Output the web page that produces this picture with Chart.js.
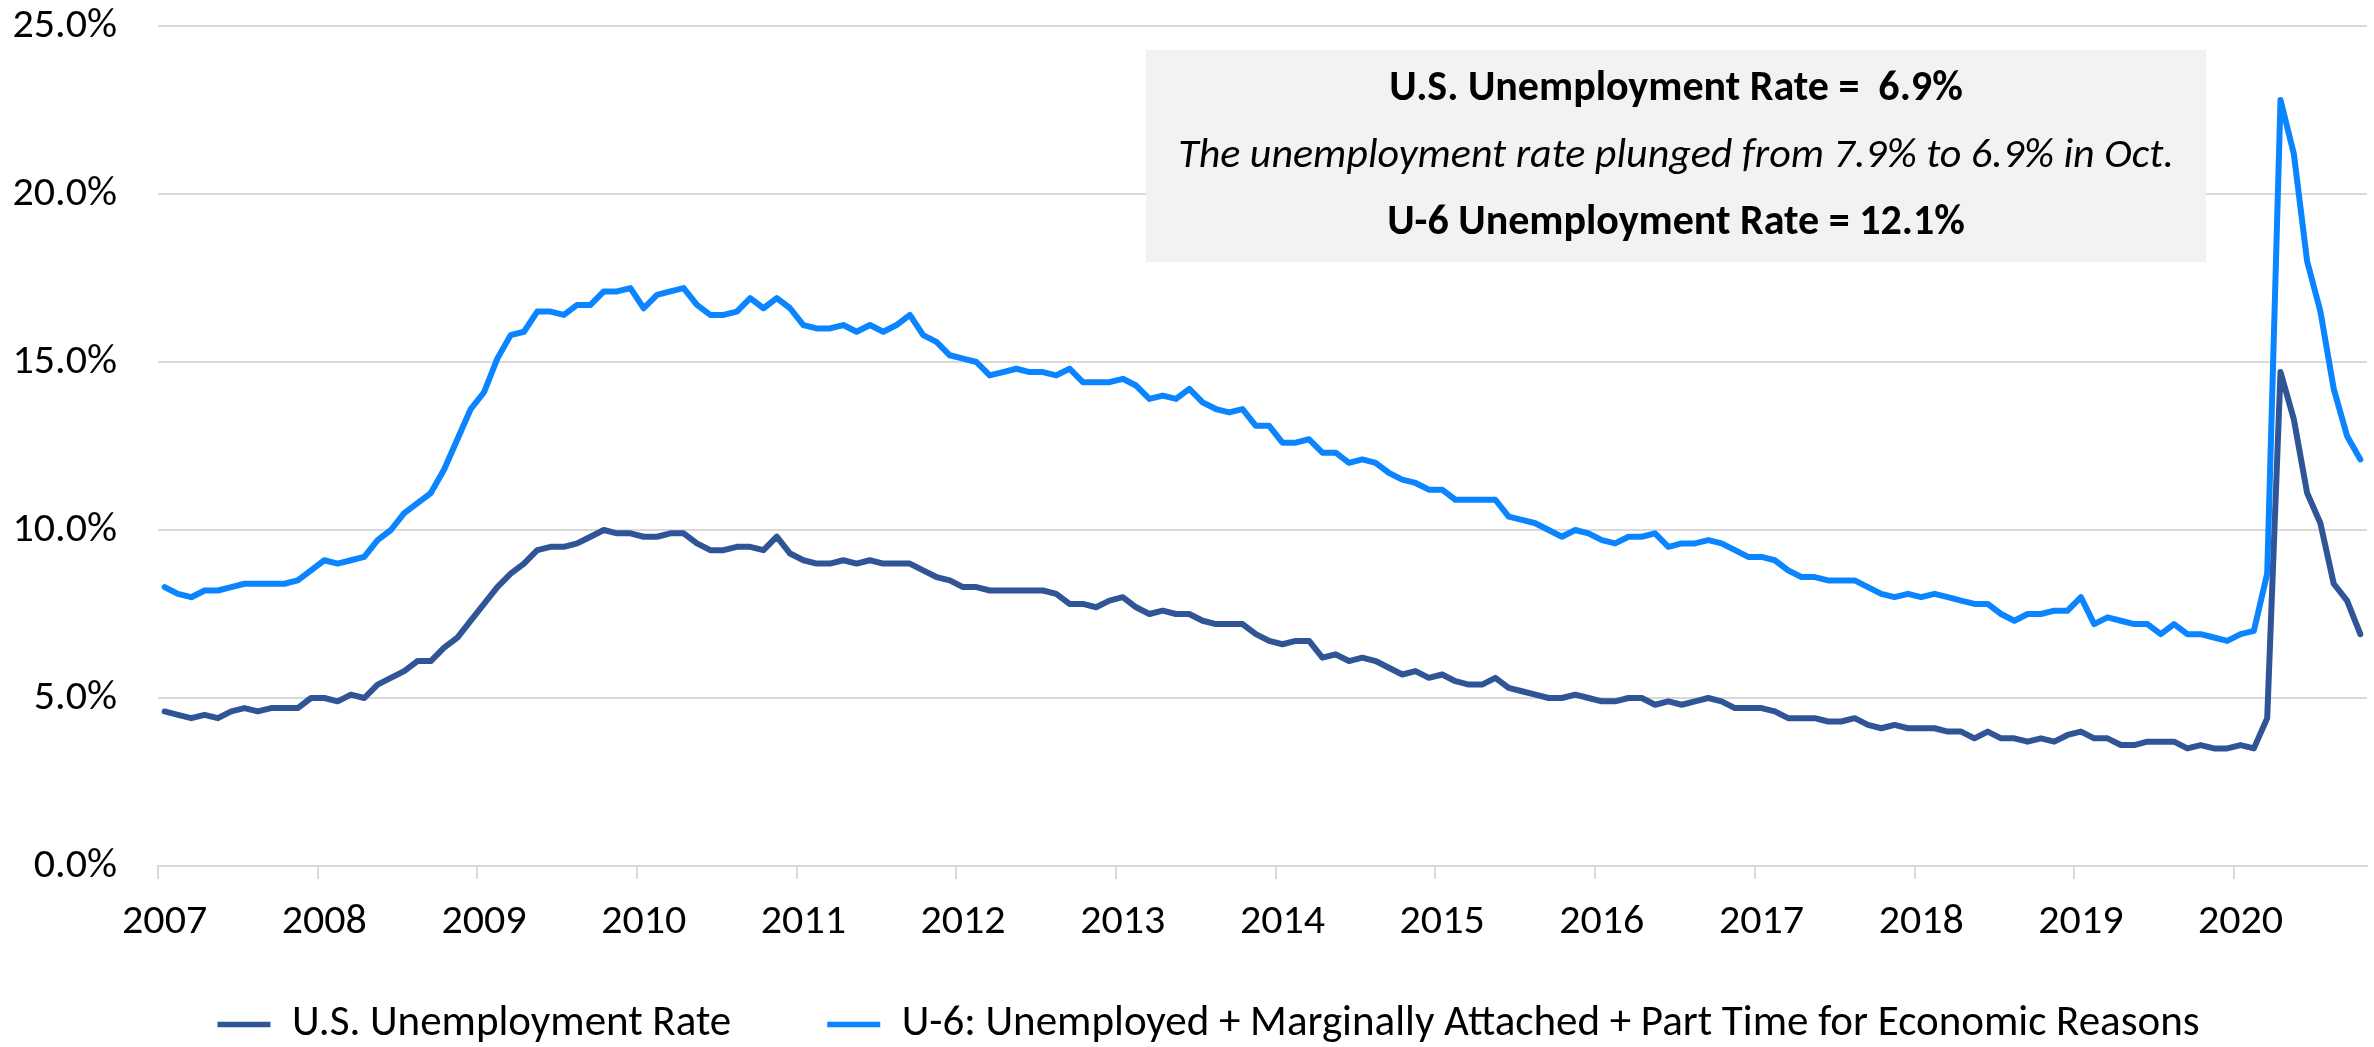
<!DOCTYPE html>
<html>
<head>
<meta charset="utf-8">
<title>U.S. Unemployment Rate vs U-6</title>
<script src="https://cdn.jsdelivr.net/npm/chart.js@4.4.1/dist/chart.umd.min.js"></script>
<style>
  html, body { margin: 0; padding: 0; background: #fff; overflow: hidden; }
  #wrap { position: relative; width: 2374px; height: 1047px; }
  #wrap canvas { display: block; }
</style>
</head>
<body>
<div id="wrap"><canvas id="unempChart"></canvas></div>
<script>
// monthly, Jan 2007 - Oct 2020
const years = [2007, 2008, 2009, 2010, 2011, 2012, 2013, 2014, 2015, 2016, 2017, 2018, 2019, 2020];

const usRate = [
  4.6, 4.5, 4.4, 4.5, 4.4, 4.6, 4.7, 4.6, 4.7, 4.7, 4.7, 5.0,
  5.0, 4.9, 5.1, 5.0, 5.4, 5.6, 5.8, 6.1, 6.1, 6.5, 6.8, 7.3,
  7.8, 8.3, 8.7, 9.0, 9.4, 9.5, 9.5, 9.6, 9.8, 10.0, 9.9, 9.9,
  9.8, 9.8, 9.9, 9.9, 9.6, 9.4, 9.4, 9.5, 9.5, 9.4, 9.8, 9.3,
  9.1, 9.0, 9.0, 9.1, 9.0, 9.1, 9.0, 9.0, 9.0, 8.8, 8.6, 8.5,
  8.3, 8.3, 8.2, 8.2, 8.2, 8.2, 8.2, 8.1, 7.8, 7.8, 7.7, 7.9,
  8.0, 7.7, 7.5, 7.6, 7.5, 7.5, 7.3, 7.2, 7.2, 7.2, 6.9, 6.7,
  6.6, 6.7, 6.7, 6.2, 6.3, 6.1, 6.2, 6.1, 5.9, 5.7, 5.8, 5.6,
  5.7, 5.5, 5.4, 5.4, 5.6, 5.3, 5.2, 5.1, 5.0, 5.0, 5.1, 5.0,
  4.9, 4.9, 5.0, 5.0, 4.8, 4.9, 4.8, 4.9, 5.0, 4.9, 4.7, 4.7,
  4.7, 4.6, 4.4, 4.4, 4.4, 4.3, 4.3, 4.4, 4.2, 4.1, 4.2, 4.1,
  4.1, 4.1, 4.0, 4.0, 3.8, 4.0, 3.8, 3.8, 3.7, 3.8, 3.7, 3.9,
  4.0, 3.8, 3.8, 3.6, 3.6, 3.7, 3.7, 3.7, 3.5, 3.6, 3.5, 3.5,
  3.6, 3.5, 4.4, 14.7, 13.3, 11.1, 10.2, 8.4, 7.9, 6.9
];

const u6Rate = [
  8.3, 8.1, 8.0, 8.2, 8.2, 8.3, 8.4, 8.4, 8.4, 8.4, 8.5, 8.8,
  9.1, 9.0, 9.1, 9.2, 9.7, 10.0, 10.5, 10.8, 11.1, 11.8, 12.7, 13.6,
  14.1, 15.1, 15.8, 15.9, 16.5, 16.5, 16.4, 16.7, 16.7, 17.1, 17.1, 17.2,
  16.6, 17.0, 17.1, 17.2, 16.7, 16.4, 16.4, 16.5, 16.9, 16.6, 16.9, 16.6,
  16.1, 16.0, 16.0, 16.1, 15.9, 16.1, 15.9, 16.1, 16.4, 15.8, 15.6, 15.2,
  15.1, 15.0, 14.6, 14.7, 14.8, 14.7, 14.7, 14.6, 14.8, 14.4, 14.4, 14.4,
  14.5, 14.3, 13.9, 14.0, 13.9, 14.2, 13.8, 13.6, 13.5, 13.6, 13.1, 13.1,
  12.6, 12.6, 12.7, 12.3, 12.3, 12.0, 12.1, 12.0, 11.7, 11.5, 11.4, 11.2,
  11.2, 10.9, 10.9, 10.9, 10.9, 10.4, 10.3, 10.2, 10.0, 9.8, 10.0, 9.9,
  9.7, 9.6, 9.8, 9.8, 9.9, 9.5, 9.6, 9.6, 9.7, 9.6, 9.4, 9.2,
  9.2, 9.1, 8.8, 8.6, 8.6, 8.5, 8.5, 8.5, 8.3, 8.1, 8.0, 8.1,
  8.0, 8.1, 8.0, 7.9, 7.8, 7.8, 7.5, 7.3, 7.5, 7.5, 7.6, 7.6,
  8.0, 7.2, 7.4, 7.3, 7.2, 7.2, 6.9, 7.2, 6.9, 6.9, 6.8, 6.7,
  6.9, 7.0, 8.7, 22.8, 21.2, 18.0, 16.5, 14.2, 12.8, 12.1
];

const yTicks = [0, 5, 10, 15, 20, 25];

const seriesNames = [
  "U.S. Unemployment Rate",
  "U-6: Unemployed + Marginally Attached + Part Time for Economic Reasons"
];

const calloutLines = [
  "U.S. Unemployment Rate =  6.9%",
  "The unemployment rate plunged from 7.9% to 6.9% in Oct.",
  "U-6 Unemployment Rate = 12.1%"
];

const FONT = "Carlito, Lato, 'Liberation Sans', sans-serif";
const GRID = "#d9d9d9";

// each month sits in the middle of its slot, years start on the tick
const toPoints = (arr) => arr.map((v, i) => ({ x: i + 0.5, y: v }));
const monthCount = usRate.length;

// grey text box drawn over the grid, under the lines
const calloutBox = {
  id: "calloutBox",
  beforeDatasetsDraw(chart, args, opts) {
    const ctx = chart.ctx;
    ctx.save();
    ctx.fillStyle = opts.background;
    ctx.fillRect(opts.left, opts.top, opts.width, opts.height);
    ctx.fillStyle = "#000";
    ctx.textAlign = "center";
    ctx.textBaseline = "alphabetic";
    const cx = opts.left + opts.width / 2;
    opts.lines.forEach((line) => {
      ctx.font = line.font;
      ctx.fillText(line.text, cx, opts.top + line.baseline);
    });
    ctx.restore();
  }
};

// the legend uses a wide item padding, which eats into the x axis band:
// let the year labels run past the axis box, and nudge the legend row right
const legendBand = {
  id: "legendBand",
  afterLayout(chart, args, opts) {
    chart.scales.x.bottom = chart.height;
    chart.legend.left += opts.shift;
    chart.legend.right += opts.shift;
  }
};

const ctx = document.getElementById("unempChart");

new Chart(ctx, {
  type: "line",
  data: {
    datasets: [
      {
        label: seriesNames[0],
        data: toPoints(usRate),
        borderColor: "#2f5597",
        backgroundColor: "#2f5597",
        borderWidth: 6,
        order: 1
      },
      {
        label: seriesNames[1],
        data: toPoints(u6Rate),
        borderColor: "#0a84ff",
        backgroundColor: "#0a84ff",
        borderWidth: 6,
        order: 0
      }
    ]
  },
  plugins: [calloutBox, legendBand],
  options: {
    responsive: true,
    maintainAspectRatio: false,
    animation: false,
    layout: {
      padding: { top: 26, right: 7, bottom: -9, left: 0 }
    },
    elements: {
      point: { radius: 0, hoverRadius: 0 },
      line: { tension: 0, borderJoinStyle: "round", borderCapStyle: "round" }
    },
    scales: {
      x: {
        type: "linear",
        min: 0,
        max: monthCount,
        afterBuildTicks(scale) {
          scale.ticks = years.map((y, k) => ({ value: k * 12 }));
        },
        afterFit(scale) {
          scale.height = 41;
        },
        grid: {
          drawOnChartArea: false,
          drawTicks: true,
          tickLength: 13,
          color: GRID,
          lineWidth: 2
        },
        border: { display: true, color: GRID, width: 2 },
        ticks: {
          autoSkip: false,
          maxRotation: 0,
          padding: 22,
          labelOffset: 6.65,
          color: "#000",
          font: { family: FONT, size: 42, lineHeight: 1 },
          callback: (value, index) => String(years[index])
        }
      },
      y: {
        min: 0,
        max: 25,
        afterBuildTicks(scale) {
          scale.ticks = yTicks.map((v) => ({ value: v }));
        },
        afterFit(scale) {
          scale.width = 158;
        },
        grid: {
          color: GRID,
          lineWidth: 2,
          drawTicks: true,
          tickLength: 41,
          tickColor: "rgba(0,0,0,0)"
        },
        border: { display: false },
        ticks: {
          padding: 0,
          color: "#000",
          font: { family: FONT, size: 42 },
          callback: (value) => value.toFixed(1) + "%"
        }
      }
    },
    plugins: {
      legend: {
        position: "bottom",
        labels: {
          usePointStyle: true,
          pointStyle: "line",
          pointStyleWidth: 53,
          boxHeight: 6,
          padding: 96,
          color: "#000",
          font: { family: FONT, size: 43 },
          sort: (a, b) => a.datasetIndex - b.datasetIndex,
          generateLabels(chart) {
            return Chart.defaults.plugins.legend.labels.generateLabels(chart)
              .map((item) => ({ ...item, lineWidth: 5.5 }));
          }
        }
      },
      legendBand: { shift: 25 },
      tooltip: { enabled: false },
      calloutBox: {
        left: 1146,
        top: 50,
        width: 1060,
        height: 212,
        background: "#f2f2f2",
        lines: [
          { text: calloutLines[0], font: "bold 42px " + FONT, baseline: 50 },
          { text: calloutLines[1], font: "italic 42px " + FONT, baseline: 117 },
          { text: calloutLines[2], font: "bold 42px " + FONT, baseline: 184 }
        ]
      }
    }
  }
});
</script>
</body>
</html>
